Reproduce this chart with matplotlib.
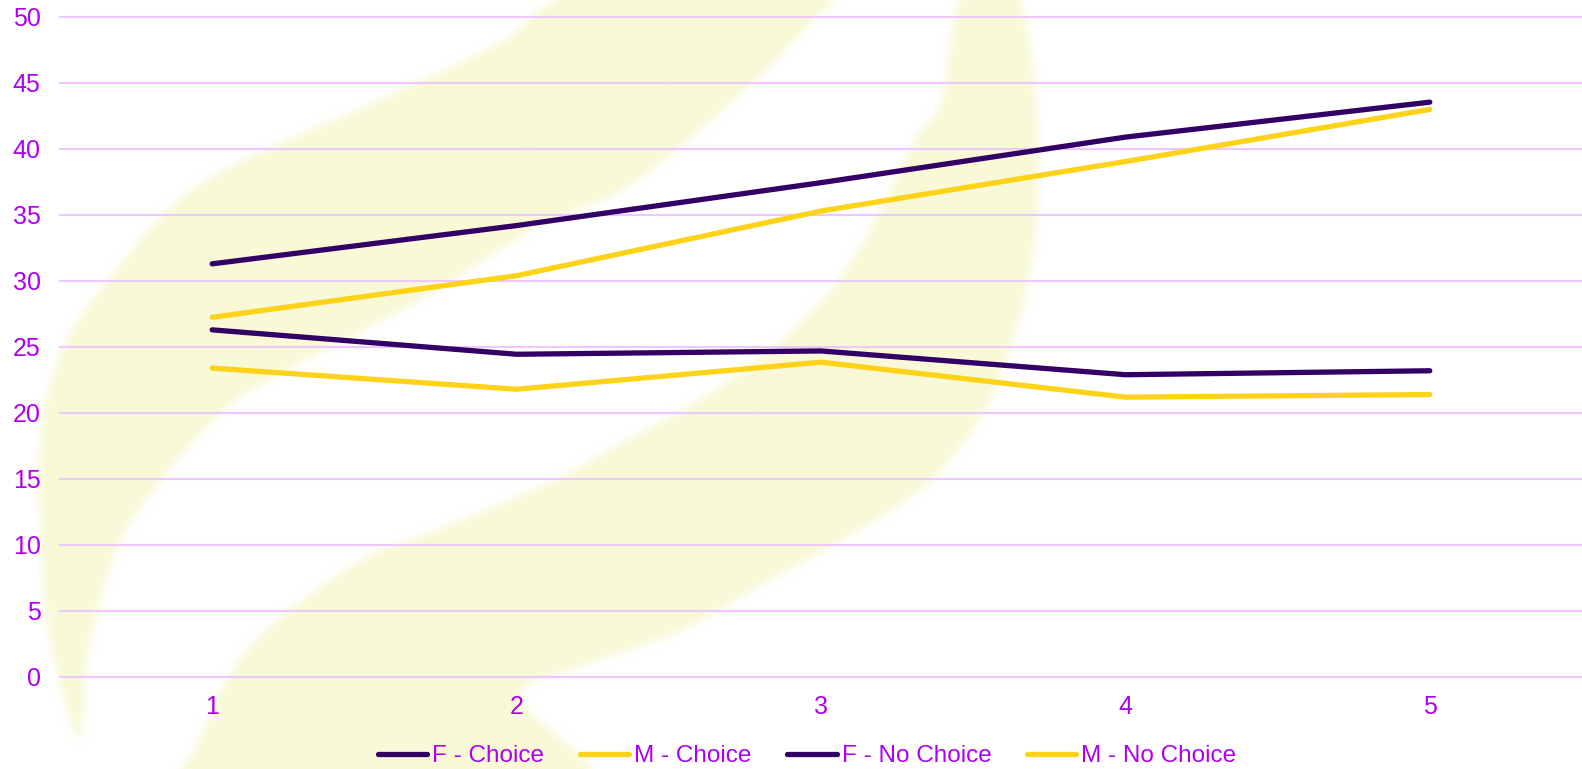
import matplotlib

matplotlib.use("Agg")
import matplotlib.pyplot as plt
import numpy as np
from matplotlib.path import Path

# series data
periods = [1, 2, 3, 4, 5]
f_choice = [31.3, 34.2, 37.45, 40.9, 43.55]
m_choice = [27.25, 30.4, 35.3, 39.05, 43.0]
f_no_choice = [26.3, 24.45, 24.7, 22.9, 23.2]
m_no_choice = [23.4, 21.8, 23.85, 21.2, 21.4]
y_ticks = [0, 5, 10, 15, 20, 25, 30, 35, 40, 45, 50]

PURPLE = "#330066"
YELLOW = "#FDD31A"
TEXT = "#AE00F0"
GRID = "#EDC8FF"
SWOOSH = (249, 249, 216)

W, H = 1582, 769

plt.rcParams["font.family"] = ["Liberation Sans", "DejaVu Sans"]


def smooth_closed(points, steps=12):
    # closed Catmull-Rom curve through the outline points
    pts = np.asarray(points, dtype=float)
    n = len(pts)
    out = []
    for i in range(n):
        p0, p1, p2, p3 = pts[i - 1], pts[i], pts[(i + 1) % n], pts[(i + 2) % n]
        for t in np.linspace(0, 1, steps, endpoint=False):
            t2, t3 = t * t, t * t * t
            out.append(0.5 * (2 * p1 + (-p0 + p2) * t
                              + (2 * p0 - 5 * p1 + 4 * p2 - p3) * t2
                              + (-p0 + 3 * p1 - 3 * p2 + p3) * t3))
    return np.array(out)


def box_blur(a, k, axis):
    pad = k // 2
    a = np.pad(a, [(pad, pad) if ax_ == axis else (0, 0) for ax_ in range(a.ndim)], mode="edge")
    c = np.cumsum(a, axis=axis, dtype=np.float64)
    c = np.insert(c, 0, 0, axis=axis)
    hi = np.take(c, np.arange(k, c.shape[axis]), axis=axis)
    lo = np.take(c, np.arange(0, c.shape[axis] - k), axis=axis)
    return (hi - lo) / k


# pale background emblem, outlined in pixel coordinates
swoosh_left = [
    (560, 0), (500, 43), (357, 110), (250, 157), (179, 200), (118, 267),
    (71, 333), (46, 400), (39, 480), (46, 613), (62, 690), (80, 738),
    (89, 647), (118, 547), (161, 480), (214, 420), (268, 380), (420, 300),
    (540, 225), (627, 187), (734, 100), (816, 17), (827, 0), (700, -20),
]
swoosh_right = [
    (959, 0), (941, 100), (913, 143), (877, 217), (841, 277), (806, 317),
    (770, 350), (699, 400), (600, 455), (560, 478), (450, 525), (357, 563),
    (250, 647), (196, 747), (188, 790), (400, 800), (590, 780), (520, 697),
    (591, 663), (681, 630), (770, 580), (859, 530), (931, 480), (984, 413),
    (998, 380), (1020, 317), (1031, 267), (1038, 200), (1036, 100),
    (1020, 0), (990, -20),
]

yy, xx = np.mgrid[0:H, 0:W]
grid_pts = np.column_stack([xx.ravel() + 0.5, yy.ravel() + 0.5])
mask = np.zeros(H * W, dtype=float)
for outline in (swoosh_left, swoosh_right):
    mask[Path(smooth_closed(outline)).contains_points(grid_pts)] = 1.0
mask = mask.reshape(H, W)
for _ in range(2):
    mask = box_blur(mask, 9, 0)
    mask = box_blur(mask, 9, 1)

emblem = np.ones((H, W, 3))
for i in range(3):
    emblem[..., i] = 1.0 - mask * (1.0 - SWOOSH[i] / 255.0)

fig = plt.figure(figsize=(W / 100, H / 100), dpi=100)
fig.patch.set_facecolor("white")
fig.figimage(emblem, xo=0, yo=0, origin="upper", zorder=-1)

ax = fig.add_axes([60 / W, (H - 677) / H, (W - 60) / W, 660 / H])
ax.set_facecolor("none")

series = [
    (f_choice, "F - Choice", PURPLE),
    (m_choice, "M - Choice", YELLOW),
    (f_no_choice, "F - No Choice", PURPLE),
    (m_no_choice, "M - No Choice", YELLOW),
]
for values, label, color in series:
    ax.plot(periods, values, color=color, linewidth=3.8, label=label,
            solid_capstyle="round", solid_joinstyle="round", zorder=3)

ax.set_xlim(0.5, 5.5)
ax.set_ylim(0, 50)
ax.set_xticks(periods)
ax.set_yticks(y_ticks)
ax.grid(axis="y", color=GRID, linewidth=1.5, zorder=1)
ax.set_axisbelow(True)
for gl in ax.get_ygridlines():
    gl.set_clip_on(False)
for spine in ax.spines.values():
    spine.set_visible(False)
ax.tick_params(axis="both", length=0, labelsize=18, labelcolor=TEXT)
ax.tick_params(axis="x", pad=13)
ax.tick_params(axis="y", pad=14)

fig.legend(
    loc="center",
    bbox_to_anchor=(807 / W, 1 - 756 / H),
    ncol=4,
    frameon=False,
    fontsize=17.5,
    labelcolor=TEXT,
    handlelength=2.05,
    handletextpad=0.2,
    columnspacing=1.45,
)

fig.savefig("out.png", dpi=100)
plt.close(fig)
